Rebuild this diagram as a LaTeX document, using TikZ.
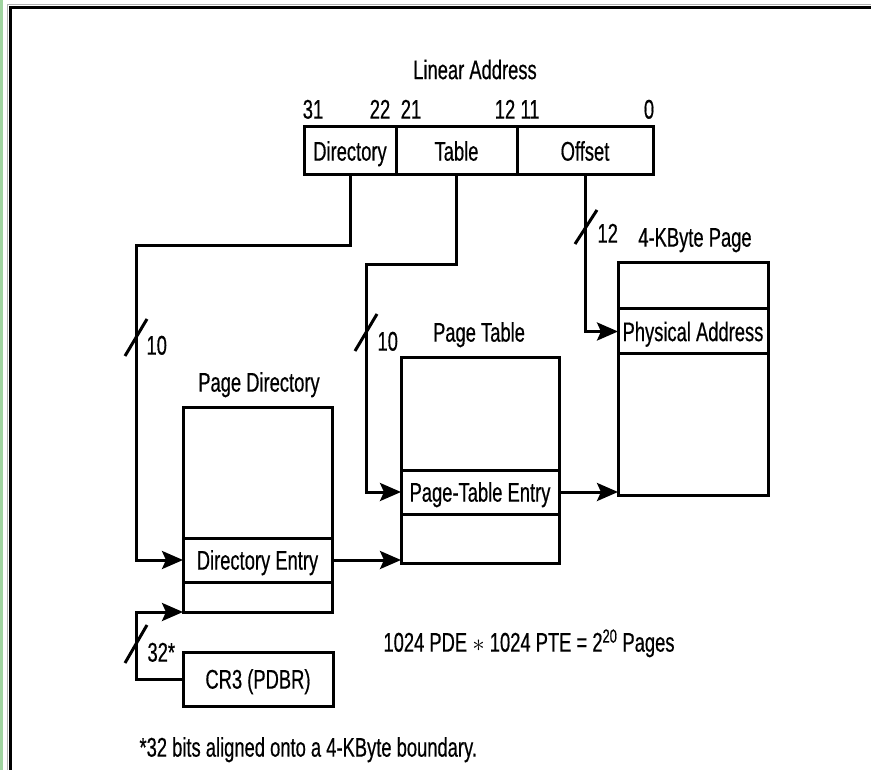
\documentclass[tikz,border=0pt]{standalone}
\usepackage{fontspec}
\setmainfont{Liberation Sans}[FakeStretch=0.68, FakeBold=0.5]
\usepackage{tikz}
\usetikzlibrary{calc, positioning, arrows.meta}
\definecolor{frameGreen}{RGB}{160, 212, 160}

\begin{document}
\begin{tikzpicture}[x=1pt, y=-1pt,
  font=\fontsize{27}{31}\selectfont, line width=3pt,
  cell/.style={draw, inner sep=0pt, outer sep=0pt, text height=19.3pt, text depth=0pt},
  lbl/.style={inner sep=0pt, text height=19.3pt, text depth=0pt},
  conn/.style={-{Stealth[length=21pt, width=18pt, inset=4pt]}, line join=miter},
  slash/.style={line width=3pt},
  busw/.style={lbl, anchor=west}]
  \useasboundingbox (0,0) rectangle (871,770);

  % Frame
  \fill[frameGreen] (0,0) rectangle (2.5,770);
  \draw[gray!60, line width=1pt] (7.5,770) -- (7.5,5) -- (871,5);
  \draw[line width=3pt] (10,770) -- (10,8) -- (871,8);

  % Linear address
  \node[lbl] (lin) at (475,69.5) {Linear Address};
  \node[lbl] (b31) at (313,109) {31};
  \node[lbl] (b22) at (380,109) {22};
  \node[lbl] (b21) at (411,109) {21};
  \node[lbl] (b12) at (505,109) {12};
  \node[lbl] (b11) at (530,109) {11};
  \node[lbl] (b0) at (649,109) {0};
  \node[cell, minimum width=92, minimum height=48] (dir) at (350,151) {Directory};
  \node[cell, minimum width=121, minimum height=48] (tab) at (456.5,151) {Table};
  \node[cell, minimum width=136, minimum height=48] (off) at (585,151) {Offset};

  % Page directory
  \node[lbl] (pdlbl) at (259,382) {Page Directory};
  \node[cell, minimum width=149, minimum height=131, anchor=north] (pdtop) at (257.5,407) {};
  \node[cell, minimum width=149, minimum height=44, below=0pt of pdtop] (dentry) {Directory Entry};
  \node[cell, minimum width=149, minimum height=30, below=0pt of dentry] (pdlow) {};
  \node[cell, minimum width=150, minimum height=54] (cr3) at (258,679) {CR3 (PDBR)};

  % Page table
  \node[lbl] (ptlbl) at (479,332) {Page Table};
  \node[cell, minimum width=158, minimum height=112, anchor=north] (pttop) at (480,358) {};
  \node[cell, minimum width=158, minimum height=44, below=0pt of pttop] (ptentry) {Page-Table Entry};
  \node[cell, minimum width=158, minimum height=49, below=0pt of ptentry] (ptlow) {};

  % 4-KByte page
  \node[lbl] (pglbl) at (695,237) {4-KByte Page};
  \node[cell, minimum width=150, minimum height=46, anchor=north] (pgtop) at (693,263) {};
  \node[cell, minimum width=150, minimum height=45, below=0pt of pgtop] (pa) {Physical Address};
  \node[cell, minimum width=150, minimum height=141, below=0pt of pa] (pglow) {};

  % Connectors
  \coordinate (dturn) at (136,246);
  \coordinate (tturn) at (366,265);
  \coordinate (cturn) at (136,640);
  \draw[conn] (dir.south) |- (dturn) |- (dentry.west);
  \draw[conn] (tab.south) |- (tturn) |- (ptentry.west);
  \draw[conn] (off.south) |- (pa.west);
  \draw[conn] (dentry.east) -- (dentry.east -| ptlow.west);
  \draw[conn] (ptentry.east) -- (ptentry.east -| pglow.west);
  \draw[conn] (cr3.west) -| (cturn) |- (pdlow.south west);

  % Bus widths
  \draw[slash] (136,338) ++(-11,18) -- ++(22,-37);
  \node[busw] (w1) at (145,345) {10};
  \draw[slash] (366,333) ++(-11,18) -- ++(22,-37);
  \node[busw] (w2) at (376,341) {10};
  \draw[slash] (586,227) ++(-11,17) -- ++(22,-34);
  \node[busw] (w3) at (596,233) {12};
  \draw[slash] (136,644) ++(-11,19) -- ++(22,-38);
  \node[busw] (w4) at (146,652) {32*};

  \node[lbl] (sum) at (529,642) {1024 PDE $\ast$ 1024 PTE = 2\textsuperscript{20} Pages};
  \node[busw] (note) at (138,747) {*32 bits aligned onto a 4-KByte boundary.};
\end{tikzpicture}
\end{document}
